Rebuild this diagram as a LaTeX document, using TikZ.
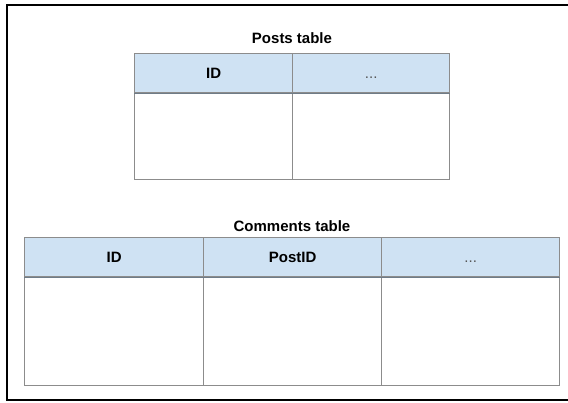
\documentclass[tikz,border=0pt]{standalone}
\usepackage{fontspec}
\setmainfont{Liberation Sans}
\definecolor{hdr}{HTML}{CFE2F3}
\definecolor{grid}{HTML}{8C8C8C}
\definecolor{hline}{HTML}{6F7C88}
\definecolor{dots}{HTML}{555555}
\begin{document}
\begin{tikzpicture}[x=1pt,y=-1pt,
  cell/.style={draw=grid, line width=1.4pt, inner sep=0pt, anchor=north west},
  hcell/.style={cell, fill=hdr, text height=10.5pt, text depth=0pt, font=\fontsize{15}{17}\selectfont\bfseries},
  title/.style={font=\fontsize{15}{17}\selectfont\bfseries, inner sep=0pt},
  dotstyle/.style={text=dots, font=\fontsize{15}{17}\selectfont}]
\useasboundingbox (0,0) rectangle (568,402);
% outer frame
\draw[line width=2.2pt, black] (569,5) -- (7,5) -- (7,400) -- (569,400);
% Posts table
\node[title] (ptitle) at (292,38) {Posts table};
\node[hcell, minimum width=158pt, minimum height=39pt] (pid) at (134,53) {ID};
\node[hcell, minimum width=157pt, minimum height=39pt, dotstyle] (pdots) at (292,53) {...};
\node[cell, minimum width=158pt, minimum height=87pt] (pb1) at (134,92) {};
\node[cell, minimum width=157pt, minimum height=87pt] (pb2) at (292,92) {};
\draw[hline, line width=1.4pt] (pid.south west) -- (pdots.south east);
% Comments table
\node[title] (ctitle) at (292,226) {Comments table};
\node[hcell, minimum width=179pt, minimum height=39pt] (cid) at (24,237) {ID};
\node[hcell, minimum width=178pt, minimum height=39pt] (cpost) at (203,237) {PostID};
\node[hcell, minimum width=178pt, minimum height=39pt, dotstyle] (cdots) at (381,237) {...};
\node[cell, minimum width=179pt, minimum height=109pt] (cb1) at (24,276) {};
\node[cell, minimum width=178pt, minimum height=109pt] (cb2) at (203,276) {};
\node[cell, minimum width=178pt, minimum height=109pt] (cb3) at (381,276) {};
\draw[hline, line width=1.4pt] (cid.south west) -- (cdots.south east);
\end{tikzpicture}
\end{document}
